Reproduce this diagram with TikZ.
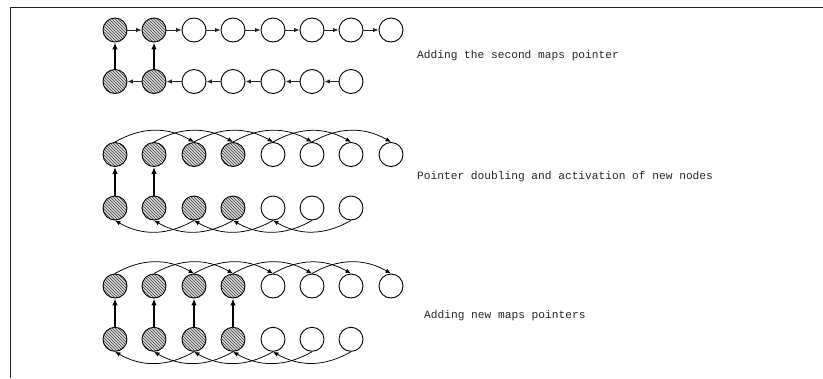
\documentclass[tikz,border=0pt]{standalone}
\usepackage{fontspec}
\setmonofont{Liberation Mono}
\usetikzlibrary{arrows.meta,patterns}
\begin{document}
\begin{tikzpicture}[x=1pt,y=-1pt,
  cell/.style={circle,draw=black,line width=0.9pt,minimum size=24pt,inner sep=0pt},
  active/.style={cell,preaction={fill=gray!30},pattern=north west lines,pattern color=black!75},
  link/.style={line width=0.9pt,black!85,-{Latex[length=5.5pt,width=4.5pt]}},
  maps/.style={line width=1.7pt,-{Latex[length=7pt,width=5.5pt]}},
  jump/.style={line width=0.75pt,-{Latex[length=5.5pt,width=4.5pt]},bend left=30},
  caption/.style={font=\ttfamily\fontsize{11.2}{13}\selectfont,text=black!85,anchor=base west,inner sep=0pt}]
\useasboundingbox (0,0) rectangle (823,378);
% frame
\draw[line width=1pt,black!85] (823,7) -- (10,7) -- (10,378);

% column positions, snapped to whole points
\def\colx#1{\pgfmathsetmacro\xx{round(115+39.4*(#1-1))}}

% ---------- stage 1: adding the second maps pointer ----------
\foreach \i in {1,...,8} {
  \colx{\i}
  \ifnum\i<3 \node[active] (a\i) at (\xx,30) {}; \else \node[cell] (a\i) at (\xx,30) {}; \fi
}
\foreach \i in {1,...,7} {
  \colx{\i}
  \ifnum\i<3 \node[active] (b\i) at (\xx,81.5) {}; \else \node[cell] (b\i) at (\xx,81.5) {}; \fi
}
\foreach \i [evaluate=\i as \j using int(\i+1)] in {1,...,7} \draw[link] (a\i) -- (a\j);
\foreach \i [evaluate=\i as \j using int(\i+1)] in {1,...,6} \draw[link] (b\j) -- (b\i);
\foreach \i in {1,2} \draw[maps] (b\i) -- (a\i);
\node[caption] (t1) at (417,58) {Adding the second maps pointer};

% ---------- stage 2: pointer doubling ----------
\foreach \i in {1,...,8} {
  \colx{\i}
  \ifnum\i<5 \node[active] (c\i) at (\xx,154.5) {}; \else \node[cell] (c\i) at (\xx,154.5) {}; \fi
}
\foreach \i in {1,...,7} {
  \colx{\i}
  \ifnum\i<5 \node[active] (d\i) at (\xx,208) {}; \else \node[cell] (d\i) at (\xx,208) {}; \fi
}
\foreach \i [evaluate=\i as \j using int(\i+2)] in {1,...,6} \draw[jump] (c\i.north) to (c\j.north);
\foreach \i [evaluate=\i as \j using int(\i+2)] in {1,...,5} \draw[jump] (d\j.south) to (d\i.south);
\foreach \i in {1,2} \draw[maps] (d\i) -- (c\i);
\node[caption] (t2) at (417,179) {Pointer doubling and activation of new nodes};

% ---------- stage 3: adding new maps pointers ----------
\foreach \i in {1,...,8} {
  \colx{\i}
  \ifnum\i<5 \node[active] (e\i) at (\xx,286) {}; \else \node[cell] (e\i) at (\xx,286) {}; \fi
}
\foreach \i in {1,...,7} {
  \colx{\i}
  \ifnum\i<5 \node[active] (f\i) at (\xx,339.3) {}; \else \node[cell] (f\i) at (\xx,339.3) {}; \fi
}
\foreach \i [evaluate=\i as \j using int(\i+2)] in {1,...,6} \draw[jump] (e\i.north) to (e\j.north);
\foreach \i [evaluate=\i as \j using int(\i+2)] in {1,...,5} \draw[jump] (f\j.south) to (f\i.south);
\foreach \i in {1,...,4} \draw[maps] (f\i) -- (e\i);
\node[caption] (t3) at (424,318) {Adding new maps pointers};
\end{tikzpicture}
\end{document}
